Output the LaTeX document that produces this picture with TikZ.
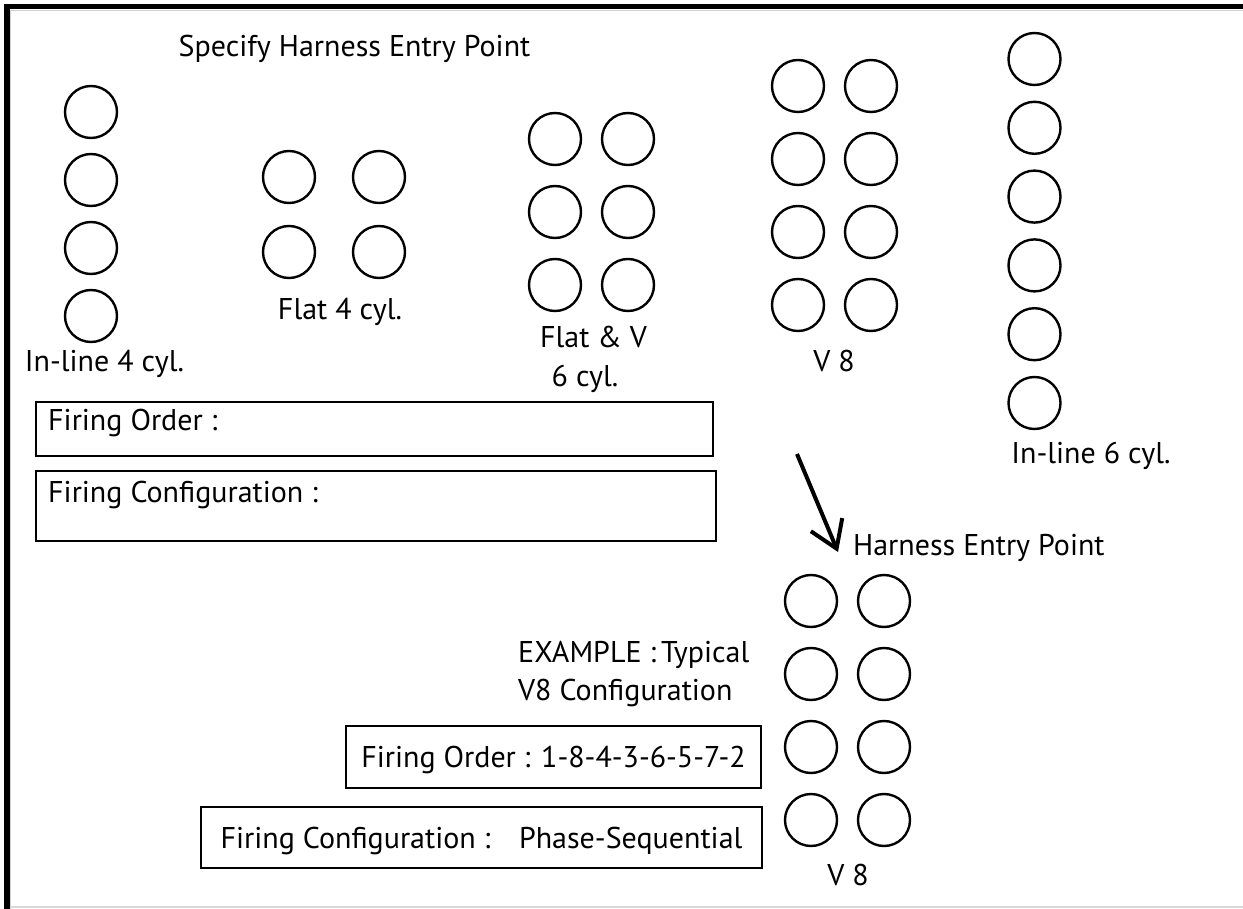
\documentclass[tikz,border=0pt]{standalone}
\usepackage{fontspec}
\setmainfont{PT Sans}
\usepackage{tikz}
\usetikzlibrary{arrows.meta, positioning}

\begin{document}
\begin{tikzpicture}[
    x=1pt, y=-1pt,
    node distance=18.6pt and 18.6pt,
    cyl/.style={circle, draw, line width=2.4pt, minimum size=52pt, inner sep=0pt},
    lbl/.style={font=\fontsize{30}{36}\selectfont, inner sep=0pt},
    fbox/.style={draw, line width=2.4pt, inner sep=0pt, font=\fontsize{30}{36}\selectfont, text depth=0pt},
    arr/.style={-{Straight Barb[length=26pt, width=34pt]}, line width=4pt},
]
\useasboundingbox (0,0) rectangle (1243,909);
\draw[gray!35, line width=1.5pt] (10.5,909) -- (10.5,10.5) -- (1243,10.5);
\draw[gray!30, line width=2pt] (10.5,907) -- (1243,907);
\draw[line width=5.5pt] (6.75,909) -- (6.75,6.75) -- (1243,6.75);

\node[lbl, anchor=base] (ttl) at (354.5,57) {Specify Harness Entry Point};

\node[cyl] (i4a) at (91,112) {};
\node[cyl, below=13.6pt of i4a] (i4b) {};
\node[cyl, below=13.6pt of i4b] (i4c) {};
\node[cyl, below=13.6pt of i4c] (i4d) {};
\node[lbl, anchor=base] (i4l) at (104.5,372) {In-line 4 cyl.};

\node[cyl] (f4a) at (289,177) {};
\node[cyl, right=35.6pt of f4a] (f4b) {};
\node[cyl, below=20.6pt of f4a] (f4c) {};
\node[cyl, right=35.6pt of f4c] (f4d) {};
\node[lbl, anchor=base] (f4l) at (340,320) {Flat 4 cyl.};

\node[cyl] (v6a) at (555,139) {};
\node[cyl, right=of v6a] (v6b) {};
\node[cyl, below=of v6a] (v6c) {};
\node[cyl, right=of v6c] (v6d) {};
\node[cyl, below=of v6c] (v6e) {};
\node[cyl, right=of v6e] (v6f) {};
\node[lbl, anchor=base] (v6l) at (593.5,348) {Flat \& V};
\node[lbl, anchor=base] (v6m) at (585,387) {6 cyl.};

\node[cyl] (v8a) at (798,86) {};
\node[cyl, right=of v8a] (v8b) {};
\node[cyl, below=of v8a] (v8c) {};
\node[cyl, right=of v8c] (v8d) {};
\node[cyl, below=of v8c] (v8e) {};
\node[cyl, right=of v8e] (v8f) {};
\node[cyl, below=of v8e] (v8g) {};
\node[cyl, right=of v8g] (v8h) {};
\node[lbl, anchor=base] (v8l) at (834,372) {V 8};

\node[cyl] (i6a) at (1034.5,59) {};
\node[cyl, below=14.4pt of i6a] (i6b) {};
\node[cyl, below=14.4pt of i6b] (i6c) {};
\node[cyl, below=14.4pt of i6c] (i6d) {};
\node[cyl, below=14.4pt of i6d] (i6e) {};
\node[cyl, below=14.4pt of i6e] (i6f) {};
\node[lbl, anchor=base] (i6l) at (1091,463) {In-line 6 cyl.};

\node[fbox, minimum width=677pt, minimum height=54pt, anchor=north west] (ordbox) at (35,401) {};
\node[lbl, anchor=base west] (ordtxt) at ([shift={(13,29)}]ordbox.north west) {Firing Order :};
\node[fbox, minimum width=680pt, minimum height=70pt, anchor=north west] (cfgbox) at (35,470) {};
\node[lbl, anchor=base west] (cfgtxt) at ([shift={(13,32)}]cfgbox.north west) {Firing Configuration :};

\coordinate (arrs) at (797,454);
\coordinate (arrt) at (838,552);
\draw[arr] (arrs) -- (arrt);
\node[lbl, anchor=base west] (hep) at (853,555) {Harness Entry Point};

\node[cyl] (e8a) at (811,601) {};
\node[cyl, right=of e8a] (e8b) {};
\node[cyl, below=of e8a] (e8c) {};
\node[cyl, right=of e8c] (e8d) {};
\node[cyl, below=of e8c] (e8e) {};
\node[cyl, right=of e8e] (e8f) {};
\node[cyl, below=of e8e] (e8g) {};
\node[cyl, right=of e8g] (e8h) {};
\node[lbl, anchor=base] (e8l) at (848,885) {V 8};

\node[lbl, anchor=base west] (exl) at (518,662) {EXAMPLE :\,Typical};
\node[lbl, anchor=base west] (exm) at (518,700) {V8 Configuration};

\node[fbox, minimum width=415pt, minimum height=62pt] (exord) at (553.5,757) {Firing Order : 1-8-4-3-6-5-7-2};
\node[fbox, minimum width=561pt, minimum height=61pt] (excfg) at (481.5,837.5) {Firing Configuration :\hspace{0.6em} Phase-Sequential};
\end{tikzpicture}
\end{document}
